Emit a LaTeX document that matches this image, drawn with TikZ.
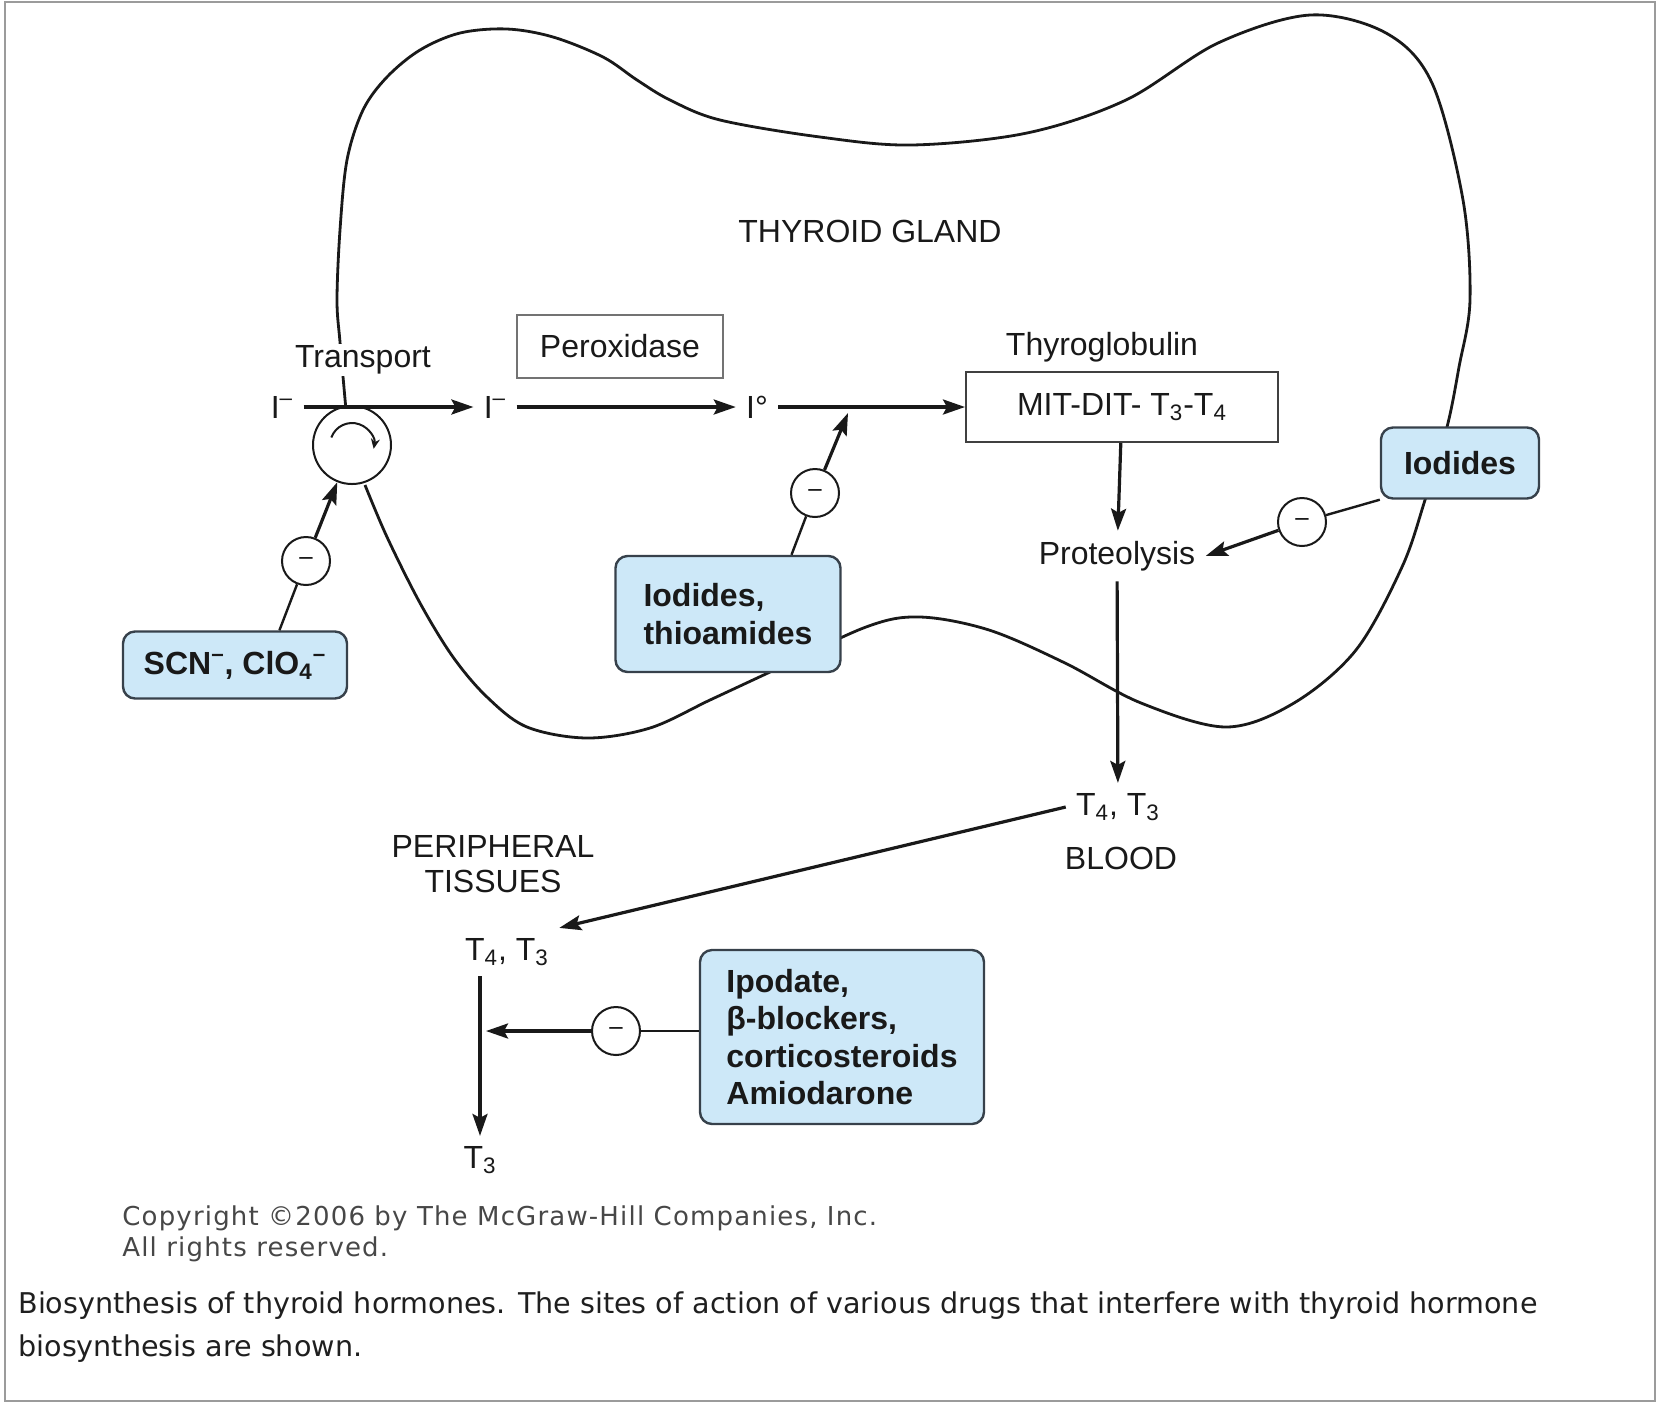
\documentclass[tikz,border=0pt]{standalone}
\usepackage{fontspec}
\setmainfont{Liberation Sans}
\newfontfamily\capfont{DejaVu Sans}
\newfontfamily\copyfont[LetterSpace=4.5]{DejaVu Sans}
\usepackage{tikz}
\usetikzlibrary{calc,arrows.meta,positioning}

\definecolor{drugblue}{RGB}{205,232,248}
\definecolor{drugedge}{RGB}{55,65,75}
\definecolor{ink}{RGB}{25,25,25}
\definecolor{framegray}{RGB}{155,155,155}

\begin{document}
\begin{tikzpicture}[
    x=0.5pt, y=-0.5pt,
    lbl/.style={font=\fontsize{16}{17.5}\selectfont,text=ink,inner sep=5pt,align=center},
    drug/.style={draw=drugedge,line width=1.2pt,rounded corners=6pt,fill=drugblue,
                 font=\fontsize{16}{18.75}\selectfont\bfseries,text=ink},
    plainbox/.style={draw=#1,line width=1pt,font=\fontsize{16}{18}\selectfont,text=ink},
    plainbox/.default=ink,
    inh/.style={circle,draw=ink,line width=1pt,fill=white,minimum size=24pt,
                inner sep=0pt,font=\fontsize{12}{12}\selectfont},
    pump/.style={circle,draw=ink,line width=1pt,fill=white,minimum size=39pt,inner sep=0pt},
    arr/.style={-{Stealth[length=11pt,width=7.5pt,inset=2pt]},line width=1.6pt,draw=ink},
    link/.style={line width=1.2pt,draw=ink},
    gland/.style={line width=1.4pt,draw=ink},
    copytxt/.style={font=\copyfont\fontsize{13}{15}\selectfont,text=black!72,inner sep=0pt},
    captxt/.style={font=\capfont\fontsize{14.3}{21}\selectfont,text=black!88,inner sep=0pt},
]
\useasboundingbox (0,0) rectangle (1660,1405);
\draw[framegray,line width=1pt] (5,2) rectangle (1655,1401);

% Gland outline
\draw[gland] plot[smooth,tension=0.55] coordinates {
  (365,485) (387,537) (420,603) (453,657) (487,697) (527,727) (587,738)
  (650,728) (710,700) (770,672) (866,627) (920,617) (989,630)
  (1065,663) (1141,703) (1226,727) (1294,703) (1356,650) (1402,567)
  (1425,500) (1447,427) (1459,367) (1470,300) (1463,200) (1432,83)
  (1386,33) (1310,15) (1218,43) (1126,100) (1027,133) (912,145) (820,137)
  (720,120) (670,100) (637,80) (603,57) (553,37) (507,29) (460,33)
  (420,50) (387,77) (363,110) (347,160) (340,230) (337,300) (340,342) (346,410)};

\node[lbl] (glandlbl) at (870,231) {THYROID GLAND};

% Iodide uptake and organification
\node[lbl,fill=white,inner sep=1pt] (transp) at (363,360) {Transport};
\node[pump] (tc) at (352,445) {};
\draw[-{Stealth[length=5pt,width=4.5pt]},line width=1pt,ink]
  (tc) ++(200:22) arc[start angle=200,end angle=370,radius=22];

\node[lbl] (i1) at (282,407) {I\textsuperscript{–}};
\node[lbl] (i2) at (495,407) {I\textsuperscript{–}};
\node[lbl] (i3) at (757,407) {I°};
\node[plainbox=black!55,minimum width=103pt,minimum height=31.5pt] (perox) at (620,346) {Peroxidase};
\node[lbl] (tglob) at (1102,347) {Thyroglobulin};
\node[plainbox=black!75,minimum width=156pt,minimum height=35pt] (mit) at (1122,407)
  {MIT-DIT- T\textsubscript{3}-T\textsubscript{4}};

\draw[arr] (i1) -- (i2);
\draw[arr] (i2) -- (i3);
\draw[arr] (i3) -- (mit);

% Release into blood
\node[lbl] (prot) at (1117,556) {Proteolysis};
\node[lbl] (blood43) at (1118,807) {T\textsubscript{4}, T\textsubscript{3}};
\node[lbl] (bloodlbl) at (1121,858) {BLOOD};
\draw[arr] (mit) -- (prot);
\draw[arr] (prot) -- (blood43);

% Peripheral conversion
\node[lbl] (periph) at (493,864) {PERIPHERAL\\TISSUES};
\node[lbl] (tis43) at (507,952) {T\textsubscript{4}, T\textsubscript{3}};
\node[lbl] (tis3) at (480,1160) {T\textsubscript{3}};
\draw[arr] (blood43.west) -- (tis43.north east);
\draw[arr] (tis43.south -| tis3) -- (tis3);

% Drug sites
\node[drug,minimum width=112pt,minimum height=33.5pt] (scn) at (235,665)
  {SCN\textsuperscript{–}, ClO\textsubscript{4}\textsuperscript{–}};
\node[drug,minimum width=112.5pt,minimum height=58pt,align=left] (thio) at (728,614)
  {Iodides,\\thioamides};
\node[drug,minimum width=79pt,minimum height=35.5pt] (iod) at (1460,463) {Iodides};
\node[drug,minimum width=142pt,minimum height=87pt,align=left] (ipod) at (842,1037)
  {Ipodate,\\β-blockers,\\corticosteroids\\Amiodarone};

\node[inh] (m1) at (306,561) {–};
\node[inh] (m2) at (815,493) {–};
\node[inh] (m3) at (1302,522) {–};
\node[inh] (m4) at (616,1031) {–};
\coordinate (tipA) at (848,413);
\coordinate (hit) at (486,1031);

\draw[link] (scn.38) -- (m1);
\draw[arr] (m1) -- (tc);
\draw[link] (thio.43) -- (m2);
\draw[arr] (m2) -- (tipA);
\draw[link] (iod.south west) -- (m3);
\draw[arr] (m3) -- (prot.east);
\draw[link] (m4 -| ipod.west) -- (m4);
\draw[arr] (m4) -- (hit);

% Credits and caption
\node[copytxt,anchor=base west] (copy1) at (122,1225) {Copyright ©2006 by The McGraw-Hill Companies, Inc.};
\node[copytxt,anchor=base west] (copy2) at (122,1256) {All rights reserved.};
\node[captxt,anchor=base west] (cap1) at (18,1313)
  {Biosynthesis of thyroid hormones. The sites of action of various drugs that interfere with thyroid hormone};
\node[captxt,anchor=base west] (cap2) at (18,1356) {biosynthesis are shown.};

\end{tikzpicture}
\end{document}
